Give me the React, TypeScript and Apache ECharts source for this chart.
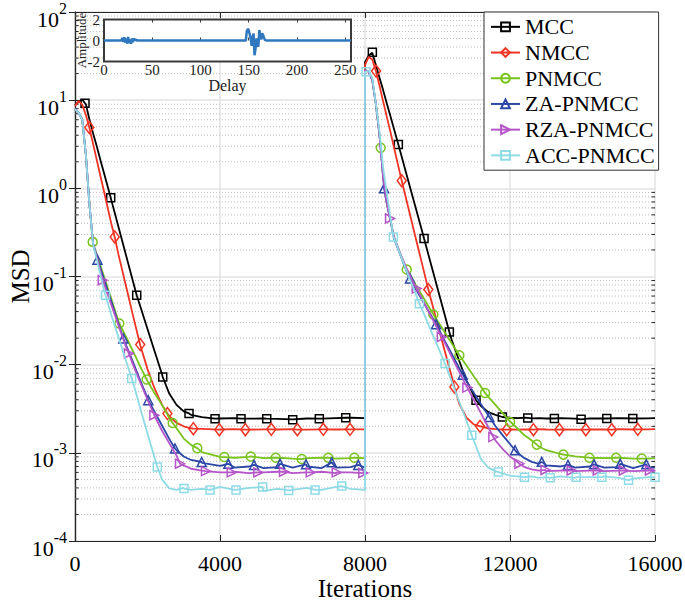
import React, { useEffect, useRef } from 'react';
import * as echarts from 'echarts';

const FONT = 'Liberation Serif, Times New Roman, serif';

const seriesNames = ['MCC', 'NMCC', 'PNMCC', 'ZA-PNMCC', 'RZA-PNMCC', 'ACC-PNMCC'];
const xTicks = [0, 4000, 8000, 12000, 16000];
const yDecades = [-4, -3, -2, -1, 0, 1, 2];

// common iteration grids for the two phases
const iters1 = [0, 100, 200, 300, 400, 500, 600, 700, 800, 1000, 1200, 1400, 1600, 1800, 2000, 2200, 2400, 2600, 2800, 3000, 3200, 3500, 4000, 4400, 4800, 5200, 5600, 6000, 6400, 6800, 7200, 7600, 8000];
const iters2 = [8000, 8100, 8200, 8300, 8400, 8500, 8600, 8700, 8800, 9000, 9200, 9400, 9600, 9800, 10000, 10200, 10400, 10600, 10800, 11000, 11200, 11400, 11600, 11800, 12000, 12200, 12400, 12600, 12800, 13000, 13400, 13800, 14200, 14600, 15000, 15400, 15800, 16000];

// MCC
const mcc1 = [8.8, 9.6, 10.2, 9.0, 6.0, 4.2, 3.0, 2.1, 1.49, 0.74, 0.364, 0.179, 0.088, 0.046, 0.0254, 0.014, 0.0078, 0.0047, 0.0035, 0.00295, 0.0027, 0.00254, 0.00245, 0.00248, 0.00244, 0.00246, 0.00243, 0.0024, 0.00245, 0.00244, 0.00248, 0.0025, 0.00248];
const mcc2 = [27, 32, 34.5, 25, 18, 13, 9.2, 6.6, 4.7, 2.39, 1.19, 0.6, 0.3, 0.148, 0.0736, 0.0366, 0.0186, 0.011, 0.0066, 0.0045, 0.0034, 0.0029, 0.0027, 0.00255, 0.0025, 0.00248, 0.0025, 0.00246, 0.00247, 0.00245, 0.00248, 0.00244, 0.00246, 0.00245, 0.00247, 0.00244, 0.00246, 0.00247];
const mccMarkIters = [276, 985, 1702, 2420, 3145, 3863, 4580, 5289, 6006, 6740, 7469, 8203, 8920, 9629, 10327, 11063, 11790, 12490, 13224, 13961, 14670, 15387];
const mccMarkVals = [9.2, 0.78, 0.0614, 0.00724, 0.0028, 0.00244, 0.00244, 0.00244, 0.00238, 0.00244, 0.0025, 34.9, 3.15, 0.27, 0.0235, 0.00395, 0.00255, 0.00249, 0.00245, 0.0024, 0.00245, 0.00245];

// NMCC
const nmcc1 = [8.6, 9.8, 8.9, 6.8, 4.8, 3.18, 2.1, 1.39, 0.92, 0.4, 0.177, 0.08, 0.036, 0.0166, 0.0089, 0.0053, 0.0035, 0.0026, 0.00219, 0.002, 0.0019, 0.00187, 0.00184, 0.00186, 0.00183, 0.00185, 0.00184, 0.00186, 0.00183, 0.00185, 0.00184, 0.00186, 0.00185];
const nmcc2 = [25, 31, 29, 21.5, 14.6, 9.7, 6.5, 4.4, 2.9, 1.28, 0.59, 0.272, 0.126, 0.059, 0.029, 0.0143, 0.0071, 0.0036, 0.0025, 0.0021, 0.002, 0.00189, 0.00186, 0.00184, 0.00185, 0.00183, 0.00185, 0.00184, 0.00186, 0.00184, 0.00185, 0.00183, 0.00185, 0.00184, 0.00186, 0.00184, 0.00185, 0.00186];
const nmccMarkIters = [395, 1095, 1800, 2550, 3264, 3981, 4699, 5416, 6134, 6851, 7587, 8305, 9013, 9748, 10465, 11174, 11911, 12646, 13363, 14092, 14808, 15525];
const nmccMarkVals = [4.9, 0.281, 0.0169, 0.00279, 0.00188, 0.00183, 0.00183, 0.00185, 0.00183, 0.00185, 0.00185, 21.4, 1.22, 0.071, 0.00559, 0.002, 0.00183, 0.00183, 0.00183, 0.00183, 0.00183, 0.00185];

// PNMCC
const pnmcc1 = [7.9, 7.2, 6.0, 2.4, 0.65, 0.235, 0.178, 0.134, 0.1, 0.056, 0.031, 0.021, 0.0142, 0.0095, 0.0065, 0.0047, 0.0035, 0.0025, 0.0019, 0.00145, 0.00123, 0.00102, 0.0009, 0.00088, 0.0009, 0.00087, 0.00088, 0.00086, 0.00087, 0.00088, 0.00086, 0.00087, 0.00087];
const pnmcc2 = [22, 21, 17, 9.0, 4.0, 1.35, 0.68, 0.44, 0.28, 0.17, 0.113, 0.08, 0.0585, 0.0425, 0.0313, 0.0233, 0.0173, 0.0129, 0.0098, 0.0074, 0.0056, 0.0043, 0.0035, 0.0028, 0.00228, 0.0019, 0.00158, 0.00138, 0.00118, 0.00107, 0.00097, 0.00091, 0.00088, 0.00087, 0.00088, 0.00086, 0.00086, 0.00087];
const pnmccMarkIters = [488, 1222, 1978, 2696, 3374, 4119, 4848, 5538, 6255, 6988, 7706, 8434, 9151, 9886, 10603, 11312, 12002, 12738, 13473, 14190, 14926, 15635];
const pnmccMarkVals = [0.247, 0.0293, 0.00678, 0.00218, 0.00113, 0.000896, 0.00091, 0.00088, 0.00085, 0.00088, 0.00088, 2.88, 0.12, 0.037, 0.0128, 0.00478, 0.00224, 0.00124, 0.000955, 0.00088, 0.00088, 0.00086];

// ZA-PNMCC
const za1 = [7.9, 7.2, 6.0, 2.4, 0.65, 0.235, 0.17, 0.125, 0.093, 0.0525, 0.029, 0.017, 0.0107, 0.0066, 0.0042, 0.0029, 0.00204, 0.00144, 0.00107, 0.00091, 0.00083, 0.00077, 0.00071, 0.00068, 0.0007, 0.00067, 0.00069, 0.00068, 0.0007, 0.00067, 0.00068, 0.00069, 0.00068];
const za2 = [22, 21, 17, 9.0, 4.0, 1.35, 0.68, 0.43, 0.27, 0.165, 0.1, 0.072, 0.052, 0.0376, 0.027, 0.0186, 0.0131, 0.0091, 0.0065, 0.0048, 0.00355, 0.00266, 0.002, 0.00158, 0.00126, 0.001, 0.00087, 0.00079, 0.00075, 0.00072, 0.0007, 0.00068, 0.0007, 0.00068, 0.00069, 0.00067, 0.00068, 0.00068];
const zaMarkIters = [620, 1333, 2022, 2759, 3495, 4230, 4939, 5656, 6373, 7083, 7816, 8526, 9243, 9960, 10697, 11431, 12140, 12876, 13600, 14320, 15040, 15760];
const zaMarkVals = [0.155, 0.0198, 0.00395, 0.00112, 0.000787, 0.00075, 0.00073, 0.00075, 0.00074, 0.00078, 0.00073, 1.0, 0.095, 0.0288, 0.0077, 0.00255, 0.00107, 0.00079, 0.00073, 0.00074, 0.00075, 0.00074];

// RZA-PNMCC
const rza1 = [7.9, 7.2, 6.0, 2.4, 0.65, 0.235, 0.165, 0.115, 0.083, 0.048, 0.0279, 0.0162, 0.01, 0.0063, 0.004, 0.0026, 0.00178, 0.00129, 0.00093, 0.00072, 0.00066, 0.00063, 0.0006, 0.00061, 0.00059, 0.0006, 0.00061, 0.00059, 0.0006, 0.00061, 0.00059, 0.0006, 0.0006];
const rza2 = [22, 21, 17, 9.0, 4.0, 1.35, 0.68, 0.44, 0.28, 0.17, 0.11, 0.075, 0.053, 0.037, 0.0255, 0.0178, 0.0121, 0.0083, 0.0057, 0.004, 0.0028, 0.00195, 0.00138, 0.0011, 0.00091, 0.00079, 0.00069, 0.00065, 0.00063, 0.00062, 0.00063, 0.00062, 0.00063, 0.00062, 0.00063, 0.00062, 0.00063, 0.00062];
const rzaMarkIters = [764, 1485, 2190, 2897, 3614, 4323, 5057, 5766, 6503, 7220, 7954, 8691, 9427, 10117, 10824, 11541, 12259, 12980, 13700, 14420, 15140, 15860];
const rzaMarkVals = [0.0908, 0.0134, 0.00267, 0.000753, 0.00062, 0.0006, 0.0006, 0.00061, 0.0006, 0.0006, 0.00059, 0.455, 0.073, 0.0206, 0.0055, 0.00151, 0.000753, 0.00064, 0.00063, 0.00063, 0.00063, 0.00063];

// ACC-PNMCC
const acc1 = [7.9, 7.2, 6.0, 2.4, 0.65, 0.23, 0.155, 0.105, 0.07, 0.0369, 0.0204, 0.0113, 0.0063, 0.0032, 0.00166, 0.00087, 0.0005, 0.000395, 0.00038, 0.0004, 0.00038, 0.00039, 0.00041, 0.00038, 0.0004, 0.00037, 0.00039, 0.00038, 0.0004, 0.00038, 0.00041, 0.00039, 0.00038];
const acc2 = [21, 21.5, 18, 9.1, 4.4, 1.72, 0.89, 0.47, 0.275, 0.166, 0.102, 0.063, 0.04, 0.0255, 0.0163, 0.0105, 0.0063, 0.0038, 0.0023, 0.00138, 0.00085, 0.00068, 0.00062, 0.00058, 0.00055, 0.00054, 0.00053, 0.00054, 0.00052, 0.00053, 0.00054, 0.00052, 0.00053, 0.00054, 0.00052, 0.00051, 0.00053, 0.00053];
const accMarkIters = [840, 1564, 2271, 3007, 3725, 4442, 5179, 5896, 6622, 7358, 8029, 8782, 9500, 10209, 10945, 11679, 12400, 13109, 13827, 14535, 15270, 16000];
const accMarkVals = [0.0614, 0.00695, 0.00069, 0.000393, 0.00038, 0.00038, 0.00041, 0.000375, 0.00038, 0.00042, 21, 0.281, 0.049, 0.0103, 0.00158, 0.000605, 0.00053, 0.00052, 0.00053, 0.00053, 0.00049, 0.00053];

// inset impulse response
const insetDelay = [0, 18, 19, 20, 21, 22, 23, 24, 25, 26, 27, 28, 29, 30, 31, 32, 33, 34, 35, 36,
  147, 148, 149, 150, 151, 152, 153, 154, 155, 156, 157, 158, 159, 160, 161, 162, 163, 164, 165, 166, 167, 168, 256];
const insetAmp = [0, 0, 0.25, -0.15, 0.3, -0.2, 0.2, -0.3, 0.35, -0.25, 0.1, -0.3, 0.2, -0.15, 0.15, 0.05, 0.1, -0.05, 0.05, 0,
  0, 0.9, 1.1, 1.0, 0.6, 0.2, -0.5, 0.3, 0.65, -1.4, -0.8, 0.2, -0.3, -0.6, 1.0, 0.5, 0.1, 0.7, 0.5, 0.2, 0.05, 0, 0];
const insetXTicks = [0, 50, 100, 150, 200, 250];

const colors = ['#000000', '#ee3424', '#78c31c', '#2c47a6', '#b655c9', '#8edbe6'];
const symbols = ['rect', 'diamond', 'circle', 'triangle', 'path://M0,0L10,5L0,10Z', 'rect'];
const symbolSizes: any[] = [8, [9, 12], 9, 9, 9, 8];

const lines1 = [mcc1, nmcc1, pnmcc1, za1, rza1, acc1];
const lines2 = [mcc2, nmcc2, pnmcc2, za2, rza2, acc2];
const markIters = [mccMarkIters, nmccMarkIters, pnmccMarkIters, zaMarkIters, rzaMarkIters, accMarkIters];
const markVals = [mccMarkVals, nmccMarkVals, pnmccMarkVals, zaMarkVals, rzaMarkVals, accMarkVals];

function buildData(l1: number[], l2: number[], mi: number[], mv: number[]) {
  const split = iters2[0];
  const p1: any[] = iters1.map((x, i) => ({ x, y: l1[i], m: false }));
  const p2: any[] = iters2.map((x, i) => ({ x, y: l2[i], m: false }));
  mi.forEach((x, i) => {
    const pt = { x, y: mv[i], m: true };
    if (x < split) p1.push(pt); else p2.push(pt);
  });
  p1.sort((a, b) => a.x - b.x);
  p2.sort((a, b) => a.x - b.x);
  return p1.concat(p2).map((p) => (p.m ? { value: [p.x, p.y] } : { value: [p.x, p.y], symbol: 'none' }));
}

function buildOption() {
  const minorVals: number[][] = [];
  for (let i = 0; i < yDecades.length - 1; i++) {
    for (let k = 2; k <= 9; k++) minorVals.push([xTicks[0], k * Math.pow(10, yDecades[i])]);
  }
  const yMin = Math.pow(10, yDecades[0]);
  const yMax = Math.pow(10, yDecades[yDecades.length - 1]);
  const xMin = xTicks[0];
  const xMax = xTicks[xTicks.length - 1];
  const xInt = xTicks[1] - xTicks[0];
  const axisColor = '#262626';

  const mainSeries = seriesNames.map((name, i) => ({
    name,
    type: 'line',
    xAxisIndex: 0,
    yAxisIndex: 0,
    data: buildData(lines1[i], lines2[i], markIters[i], markVals[i]),
    showSymbol: true,
    symbol: symbols[i],
    symbolSize: symbolSizes[i],
    lineStyle: { color: colors[i], width: 1.8 },
    itemStyle: { color: 'rgba(255,255,255,0)', borderColor: colors[i], borderWidth: 1.5 },
    emphasis: { disabled: true },
    z: 3 + i,
  }));

  return {
    animation: false,
    backgroundColor: '#ffffff',
    textStyle: { fontFamily: FONT },
    grid: [
      { left: 75, top: 12, width: 580, height: 529, outerBoundsMode: 'none', containLabel: false },
      { left: 104, top: 19.5, width: 247, height: 42, show: true, backgroundColor: '#ffffff', borderColor: '#3a3a3a', borderWidth: 2, z: 10, outerBoundsMode: 'none', containLabel: false },
    ],
    legend: {
      data: seriesNames,
      orient: 'vertical',
      left: 484,
      top: 12,
      itemWidth: 29,
      itemHeight: 11,
      itemGap: 0,
      padding: [2, 4, 2, 6],
      backgroundColor: '#ffffff',
      borderColor: '#333333',
      borderWidth: 1,
      textStyle: { fontSize: 22, fontFamily: FONT, color: '#000', lineHeight: 25.7 },
      z: 20,
    },
    xAxis: [
      {
        gridIndex: 0, type: 'value', min: xMin, max: xMax, interval: xInt, position: 'bottom',
        axisLine: { show: true, lineStyle: { color: axisColor, width: 1.2 } },
        axisTick: { show: true, inside: true, length: 6, lineStyle: { color: axisColor } },
        axisLabel: { fontSize: 22, fontFamily: FONT, color: '#000', margin: 11, formatter: (v: number) => String(v) },
        splitLine: { show: true, lineStyle: { color: '#e3e3e3', width: 1.5 } },
        name: 'Iterations', nameLocation: 'middle', nameGap: 35, nameMoveOverlap: false,
        nameTextStyle: { fontSize: 25, fontFamily: FONT, color: '#000' },
      },
      {
        gridIndex: 0, type: 'value', min: xMin, max: xMax, interval: xInt, position: 'top',
        axisLine: { show: true, lineStyle: { color: axisColor, width: 1.2 } },
        axisTick: { show: true, inside: true, length: 6, lineStyle: { color: axisColor } },
        axisLabel: { show: false },
        splitLine: { show: false },
      },
      {
        gridIndex: 1, type: 'value', min: 0, max: 256, interval: insetXTicks[1] - insetXTicks[0], position: 'bottom',
        axisLine: { show: false },
        axisTick: { show: true, inside: true, length: 3, lineStyle: { color: '#3a3a3a' } },
        axisLabel: { fontSize: 15, lineHeight: 15, fontFamily: FONT, color: '#222', margin: 1 },
        splitLine: { show: false },
        name: 'Delay', nameLocation: 'middle', nameGap: 16, nameMoveOverlap: false,
        nameTextStyle: { fontSize: 16, lineHeight: 16, fontFamily: FONT, color: '#222' },
        z: 11,
      },
      {
        gridIndex: 1, type: 'value', min: 0, max: 256, interval: insetXTicks[1] - insetXTicks[0], position: 'top',
        axisLine: { show: false },
        axisTick: { show: true, inside: true, length: 3, lineStyle: { color: '#3a3a3a' } },
        axisLabel: { show: false },
        splitLine: { show: false },
        z: 11,
      },
    ],
    yAxis: [
      {
        gridIndex: 0, type: 'log', logBase: 10, min: yMin, max: yMax, splitNumber: yDecades.length - 1, position: 'left',
        axisLine: { show: true, lineStyle: { color: axisColor, width: 1.2 } },
        axisTick: { show: true, inside: true, length: 6, lineStyle: { color: axisColor } },
        axisLabel: {
          margin: 8,
          formatter: (v: number) => `{b|10}{s|${Math.round(Math.log10(v))}}`,
          rich: {
            b: { fontSize: 22, lineHeight: 22, padding: [14, 0, 0, 0], fontFamily: FONT, color: '#000' },
            s: { fontSize: 16, lineHeight: 16, padding: [6, 0, 14, 0], fontFamily: FONT, color: '#000' },
          },
        },
        splitLine: { show: true, lineStyle: { color: '#e3e3e3', width: 1.5 } },
        name: 'MSD', nameLocation: 'middle', nameGap: 42, nameMoveOverlap: false,
        nameTextStyle: { fontSize: 25, fontFamily: FONT, color: '#000' },
      },
      {
        gridIndex: 0, type: 'log', logBase: 10, min: yMin, max: yMax, splitNumber: yDecades.length - 1, position: 'right',
        axisLine: { show: true, lineStyle: { color: axisColor, width: 1.2 } },
        axisTick: { show: true, inside: true, length: 6, lineStyle: { color: axisColor } },
        axisLabel: { show: false },
        splitLine: { show: false },
      },
      {
        gridIndex: 1, type: 'value', min: -2, max: 2, interval: 2,
        axisLine: { show: false },
        axisTick: { show: true, inside: true, length: 3, lineStyle: { color: '#3a3a3a' } },
        axisLabel: { fontSize: 15, fontFamily: FONT, color: '#222', margin: 4 },
        splitLine: { show: false },
        name: 'Amplitude', nameLocation: 'middle', nameGap: 16, nameMoveOverlap: false,
        nameTextStyle: { fontSize: 13, fontFamily: FONT, color: '#222' },
        z: 11,
      },
    ],
    series: [
      {
        type: 'custom',
        xAxisIndex: 0,
        yAxisIndex: 0,
        silent: true,
        z: 1,
        clip: false,
        data: minorVals,
        renderItem: (params: any, api: any) => {
          const cs = params.coordSys;
          const y = api.coord([api.value(0), api.value(1)])[1];
          return {
            type: 'group',
            children: [
              { type: 'line', shape: { x1: cs.x, y1: y, x2: cs.x + cs.width, y2: y }, style: { stroke: '#bdbdbd', lineWidth: 1, lineDash: [1, 2] } },
              { type: 'line', shape: { x1: cs.x, y1: y, x2: cs.x + 3.5, y2: y }, style: { stroke: axisColor, lineWidth: 1 } },
              { type: 'line', shape: { x1: cs.x + cs.width - 3.5, y1: y, x2: cs.x + cs.width, y2: y }, style: { stroke: axisColor, lineWidth: 1 } },
            ],
          };
        },
      },
      ...mainSeries,
      {
        type: 'line',
        xAxisIndex: 2,
        yAxisIndex: 2,
        data: insetDelay.map((d, i) => [d, insetAmp[i]]),
        symbol: 'none',
        lineStyle: { color: '#2f78bf', width: 2.5 },
        emphasis: { disabled: true },
        z: 12,
      },
    ],
  };
}

export default function App() {
  const ref = useRef<HTMLDivElement>(null);
  useEffect(() => {
    if (!ref.current) return;
    const chart = echarts.init(ref.current, undefined, { renderer: 'svg' });
    chart.setOption(buildOption() as any);
    return () => chart.dispose();
  }, []);
  return (
    <div
      ref={ref}
      style={{ position: 'fixed', left: 0, top: 0, width: 685, height: 602, background: '#fff' }}
    />
  );
}
